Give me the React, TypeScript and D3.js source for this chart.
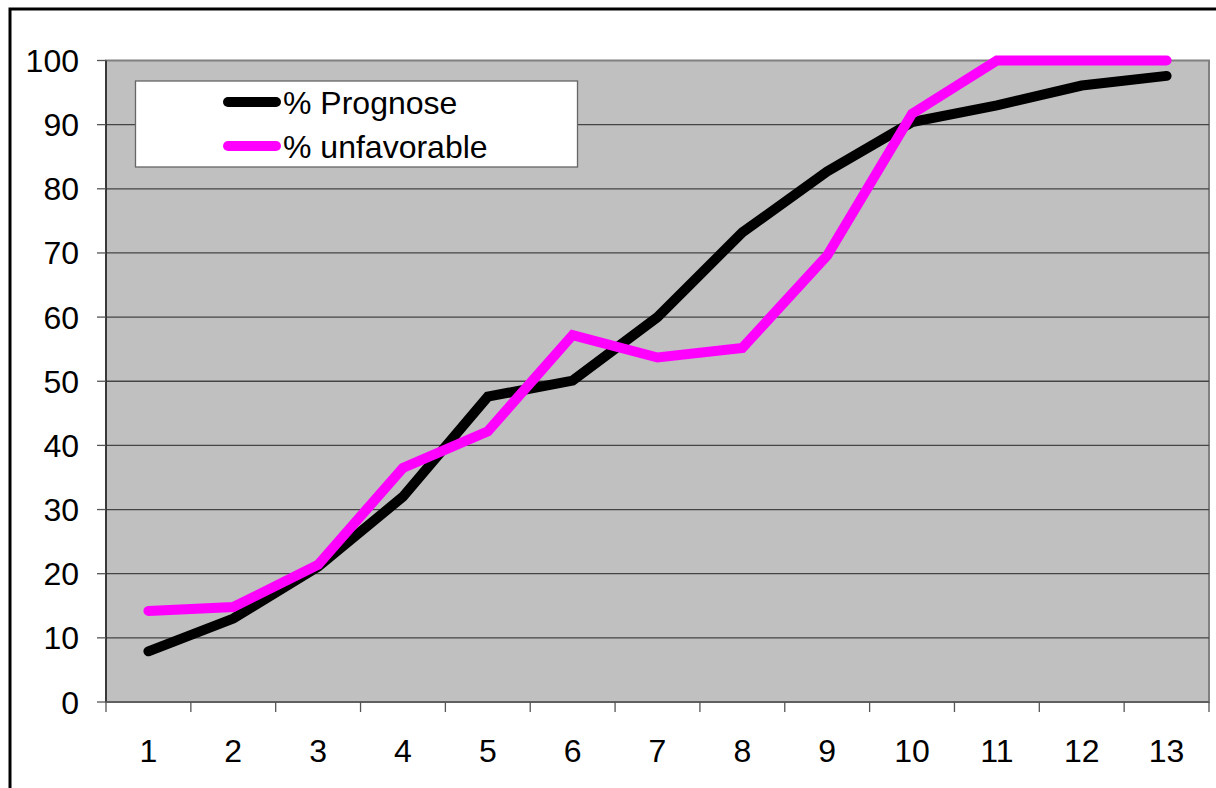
import React from "react";
import * as d3 from "d3";

const categories = ["1", "2", "3", "4", "5", "6", "7", "8", "9", "10", "11", "12", "13"];
const prognose = [7.9, 13, 21.1, 32, 47.6, 50.1, 60, 73.2, 82.7, 90.4, 93, 96.1, 97.6];
const unfavorable = [14.2, 14.8, 21.4, 36.5, 42.2, 57.2, 53.7, 55.2, 69.6, 91.7, 100, 100, 100];
const yTicks = [0, 10, 20, 30, 40, 50, 60, 70, 80, 90, 100];
const seriesNames = ["% Prognose", "% unfavorable"];
const seriesColors = ["#000000", "#FF00FF"];

export default function App() {
  const W = 1216, H = 788;
  const left = 106, right = 1209, top = 60.5, bottom = 702;
  const x = d3.scaleBand<string>().domain(categories).range([left, right]).padding(0);
  const y = d3.scaleLinear().domain([0, 100]).range([bottom, top]);
  const cx = (i: number) => (x(categories[i]) as number) + x.bandwidth() / 2;
  const line = d3.line<number>().x((_, i) => cx(i)).y((d) => y(d));
  const font = "'Liberation Sans', Arial, sans-serif";
  const fs = 32;
  const boundaries = d3.range(categories.length + 1).map((i) => left + i * x.bandwidth());

  return (
    <svg width={W} height={H} style={{ position: "absolute", left: 0, top: 0, background: "#fff" }}>
      <rect x={10} y={9} width={1300} height={900} fill="#fff" stroke="#000" strokeWidth={3} />
      <rect x={left} y={top} width={right - left} height={bottom - top} fill="#C0C0C0" stroke="#808080" strokeWidth={2} />
      {yTicks.filter((t) => t > 0 && t < 100).map((t) => (
        <line key={"g" + t} x1={left} x2={right} y1={y(t)} y2={y(t)} stroke="#444" strokeWidth={1.3} />
      ))}
      <line x1={left} x2={left} y1={top} y2={bottom} stroke="#222" strokeWidth={1.5} />
      <line x1={left} x2={right} y1={bottom} y2={bottom} stroke="#555" strokeWidth={1.5} />
      {yTicks.map((t) => (
        <g key={"yt" + t}>
          <line x1={97} x2={left} y1={y(t)} y2={y(t)} stroke="#555" strokeWidth={1.3} />
          <text x={79} y={y(t)} dy="0.36em" textAnchor="end" fontFamily={font} fontSize={fs} fill="#000">
            {t}
          </text>
        </g>
      ))}
      {boundaries.map((b, i) => (
        <line key={"xt" + i} x1={b} x2={b} y1={bottom} y2={bottom + 10} stroke="#555" strokeWidth={1.3} />
      ))}
      {categories.map((c, i) => (
        <text key={"xl" + c} x={cx(i)} y={762} textAnchor="middle" fontFamily={font} fontSize={fs} fill="#000">
          {c}
        </text>
      ))}
      <path d={line(prognose) || ""} fill="none" stroke={seriesColors[0]} strokeWidth={10} strokeLinecap="round" strokeLinejoin="miter" />
      <path d={line(unfavorable) || ""} fill="none" stroke={seriesColors[1]} strokeWidth={10} strokeLinecap="round" strokeLinejoin="miter" />
      <rect x={135.5} y={81} width={442} height={86} fill="#fff" stroke="#666" strokeWidth={1.3} />
      {seriesNames.map((n, i) => (
        <g key={n}>
          <line x1={228} x2={276} y1={102 + i * 44} y2={102 + i * 44} stroke={seriesColors[i]} strokeWidth={10} strokeLinecap="round" />
          <text x={283} y={113.5 + i * 44} fontFamily={font} fontSize={fs} fill="#000">
            {n}
          </text>
        </g>
      ))}
    </svg>
  );
}
